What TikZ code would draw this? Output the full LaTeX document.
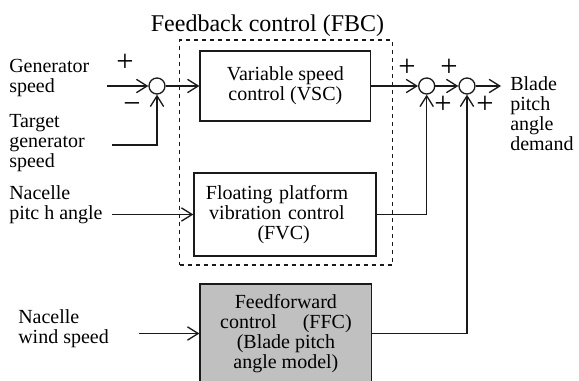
\documentclass[tikz,border=0pt]{standalone}
\usepackage{fontspec}
\setmainfont{Liberation Serif}
\usetikzlibrary{arrows.meta,positioning}
\definecolor{fcgray}{HTML}{C0C0C0}
\definecolor{fcline}{HTML}{1A1A1A}

\begin{document}
\begin{tikzpicture}[x=0.75pt, y=-0.75pt,
  block/.style={draw=fcline, line width=1pt, align=center, inner sep=0pt,
                font=\fontsize{15}{15}\selectfont},
  sumpt/.style={draw=fcline, line width=1pt, circle, minimum size=12pt, inner sep=0pt},
  lbl/.style={anchor=west, align=left, inner sep=0pt, font=\fontsize{15}{15}\selectfont},
  sgn/.style={inner sep=0pt, font=\fontsize{23}{23}\selectfont},
  ttl/.style={anchor=base, inner sep=0pt, font=\fontsize{18}{18}\selectfont},
  arr/.style={-{Straight Barb[length=8pt,width=10pt]}, fcline, line width=1pt},
]
\useasboundingbox (0,0) rectangle (579,381);

% Feedback group (dashed frame) and its title
\node[draw=fcline, line width=1pt, dashed, minimum width=159.5pt, minimum height=168.75pt,
      inner sep=0pt] (fbc) at (286,152.5) {};
\node[ttl] (fbctitle) at (267.5,32) {Feedback control (FBC)};

% Control blocks
\node[block, minimum width=128pt, minimum height=52.5pt] (vsc) at (285.4,86)
  {Variable speed\\control (VSC)};
\node[block, minimum width=136.5pt, minimum height=62.25pt, text width=128pt] (fvc) at (285,214.5)
  {\hspace*{-12pt}Floating platform\\\hspace*{-12pt}vibration control\\\hspace*{-2pt}(FVC)};
\node[block, fill=fcgray, minimum width=128.8pt, minimum height=74.25pt] (ffc) at (285.9,333.5)
  {Feedforward\\control\hspace{1.3em}(FFC)\\(Blade pitch\\angle model)};

% Summing points
\node[sumpt] (sum1) at (157,86) {};
\node[sumpt] (sum2) at (426.7,86) {};
\node[sumpt] (sum3) at (467,86) {};

% Inputs and output
\node[lbl] (genspd) at (9,78) {Generator\\speed};
\node[lbl] (tgtspd) at (9,143) {Target\\generator\\speed};
\node[lbl] (pitch) at (9,205) {Nacelle\\pitc h angle};
\node[lbl] (wind) at (18,329) {Nacelle\\wind speed};
\node[lbl] (demand) at (510,114) {Blade\\pitch\\angle\\demand};

\coordinate (genin) at (107,86);
\coordinate (tgtin) at (112,145);
\coordinate (pitchin) at (112,214.5);
\coordinate (windin) at (139,333.5);
\coordinate (out) at (501,86);

% Signals
\draw[arr] (genin) -- (sum1);
\draw[arr] (tgtin) -| (sum1);
\draw[arr] (sum1) -- (vsc);
\draw[arr] (vsc) -- (sum2);
\draw[arr] (sum2) -- (sum3);
\draw[arr] (sum3) -- (out);
\draw[arr] (pitchin) -- (fvc);
\draw[arr] (fvc) -| (sum2);
\draw[arr] (windin) -- (ffc);
\draw[arr] (ffc) -| (sum3);

% Signs
\node[sgn] (s1a) at (125,63) {+};
\node[sgn] (s1b) at (132,108) {−};
\node[sgn] (s2a) at (407,68) {+};
\node[sgn] (s2b) at (443,105) {+};
\node[sgn] (s3a) at (449,68) {+};
\node[sgn] (s3b) at (485,105) {+};

\end{tikzpicture}
\end{document}
